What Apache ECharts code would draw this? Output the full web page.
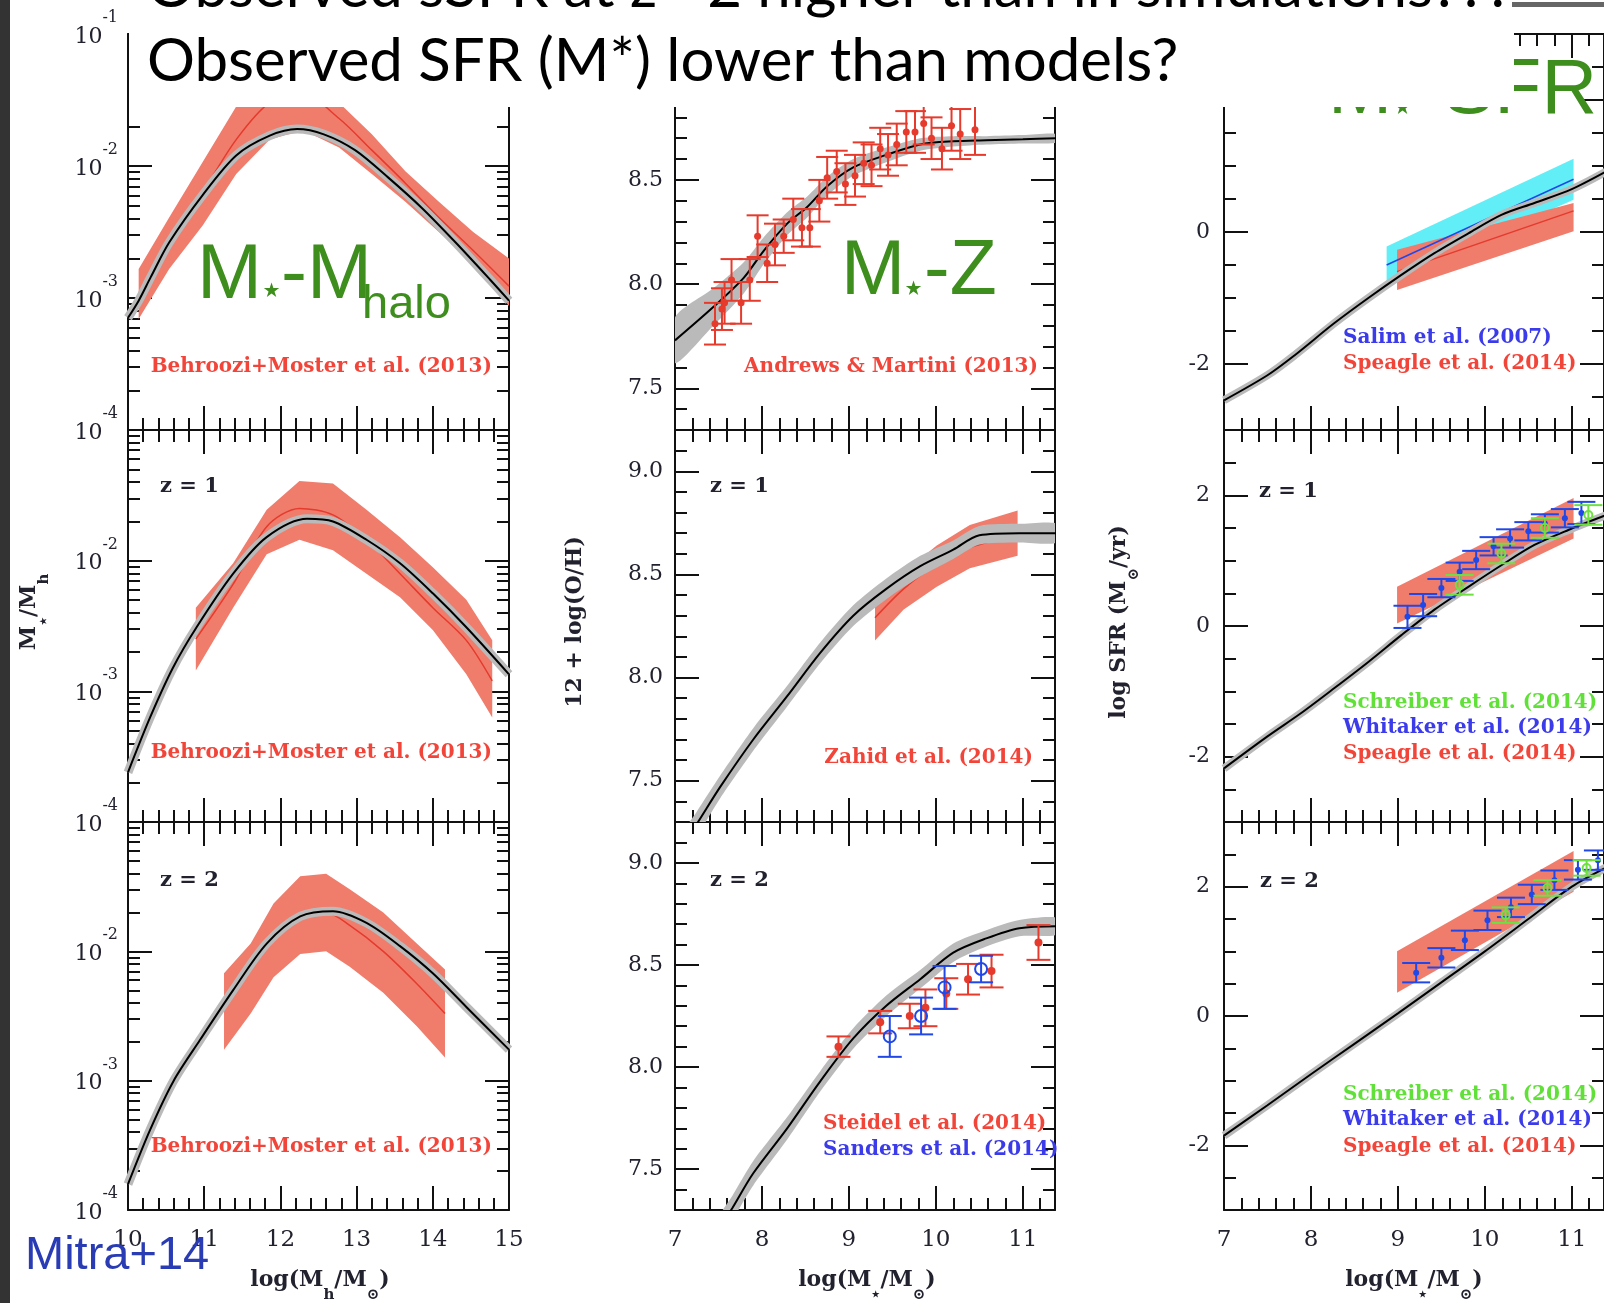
<!DOCTYPE html>
<html><head><meta charset="utf-8">
<script src="https://cdn.jsdelivr.net/npm/echarts@6/dist/echarts.min.js"></script>
<style>html,body{margin:0;padding:0;background:#fff}#c{width:1604px;height:1303px}</style>
</head><body><div id="c"></div>
<script>
// ---------------- DATA ----------------
// Tick labels
const mhXTicks = [10, 11, 12, 13, 14, 15];
const msXTicks = [7, 8, 9, 10, 11];
const mhYTicks = [-4, -3, -2, -1];            // log10(M*/Mh) decades
const mhYLabelsTop = [-4, -3, -2, -1];
const mhYLabelsLower = [-4, -3, -2];
const mzYTicks = [7.5, 8.0, 8.5, 9.0];
const sfrYTicks = [-2, 0, 2];

// ---- M*-Mhalo (values are log10 M*/Mh) ----
const mhX0 = [10.0, 10.14, 10.3, 10.54, 10.98, 11.42, 11.86, 12.22, 12.57, 12.98, 13.42, 13.86, 14.3, 14.75, 15.0];
const mhModel0 = [-3.15, -3.02, -2.84, -2.58, -2.22, -1.92, -1.77, -1.72, -1.76, -1.88, -2.09, -2.32, -2.58, -2.86, -3.02];
const mhObsX0 = [10.14, 10.54, 10.98, 11.42, 11.86, 12.3, 12.77, 13.2, 13.64, 14.08, 14.53, 15.0];
const mhObsHi0 = [-2.78, -2.39, -1.97, -1.55, -1.30, -1.24, -1.52, -1.76, -2.04, -2.27, -2.50, -2.70];
const mhObsLo0 = [-3.16, -2.78, -2.45, -2.06, -1.80, -1.73, -1.86, -2.06, -2.27, -2.50, -2.75, -3.06];
const mhObsMid0 = [-2.97, -2.60, -2.20, -1.80, -1.52, -1.46, -1.64, -1.88, -2.13, -2.39, -2.64, -2.91];

const mhX1 = [10.0, 10.29, 10.59, 10.9, 11.38, 11.82, 12.35, 12.69, 13.13, 13.57, 14.0, 14.44, 15.0];
const mhModel1 = [-3.62, -3.2, -2.82, -2.51, -2.10, -1.82, -1.68, -1.70, -1.84, -2.02, -2.25, -2.51, -2.87];
const mhObsX1 = [10.89, 11.38, 11.82, 12.25, 12.69, 13.13, 13.57, 14.0, 14.44, 14.78];
const mhObsHi1 = [-2.36, -2.02, -1.61, -1.39, -1.41, -1.61, -1.82, -2.05, -2.30, -2.61];
const mhObsLo1 = [-2.84, -2.36, -1.95, -1.84, -1.92, -2.10, -2.28, -2.53, -2.87, -3.20];
const mhObsMid1 = [-2.60, -2.18, -1.74, -1.60, -1.65, -1.84, -2.10, -2.36, -2.61, -2.92];

const mhX2 = [10.0, 10.29, 10.6, 10.94, 11.38, 11.82, 12.26, 12.69, 13.13, 13.57, 14.0, 14.44, 15.0];
const mhModel2 = [-3.8, -3.38, -3.0, -2.69, -2.30, -1.94, -1.73, -1.69, -1.78, -1.96, -2.17, -2.43, -2.76];
const mhObsX2 = [11.26, 11.61, 11.91, 12.26, 12.6, 12.91, 13.35, 13.79, 14.16];
const mhObsHi2 = [-2.17, -1.94, -1.63, -1.42, -1.40, -1.52, -1.70, -1.94, -2.14];
const mhObsLo2 = [-2.76, -2.48, -2.20, -2.02, -2.00, -2.12, -2.32, -2.58, -2.82];
const mhObsMid2 = [-2.43, -2.14, -1.89, -1.71, -1.70, -1.80, -2.00, -2.25, -2.48];

// ---- M*-Z (12+log O/H) ----
const mzX0 = [7.0, 7.44, 7.79, 8.02, 8.29, 8.52, 8.75, 9.05, 9.43, 9.82, 10.2, 10.58, 11.0, 11.4];
const mzModel0 = [7.73, 7.89, 8.03, 8.16, 8.29, 8.37, 8.47, 8.56, 8.62, 8.67, 8.685, 8.69, 8.695, 8.70];
const mzSpread0 = [0.11, 0.09, 0.075, 0.065, 0.055, 0.05, 0.045, 0.04, 0.035, 0.03, 0.025, 0.02, 0.02, 0.02];
const andrewsX = [7.46, 7.54, 7.57, 7.65, 7.76, 7.86, 7.95, 8.06, 8.15, 8.25, 8.36, 8.46, 8.55, 8.66, 8.75, 8.86, 8.96, 9.07, 9.17, 9.26, 9.36, 9.45, 9.55, 9.66, 9.76, 9.86, 9.95, 10.07, 10.18, 10.28, 10.45];
const andrewsY = [7.81, 7.88, 7.91, 8.02, 7.91, 8.02, 8.23, 8.10, 8.19, 8.23, 8.31, 8.27, 8.27, 8.40, 8.51, 8.54, 8.48, 8.52, 8.58, 8.57, 8.65, 8.62, 8.67, 8.73, 8.73, 8.77, 8.70, 8.65, 8.76, 8.72, 8.74];
const andrewsErr = [0.1, 0.1, 0.1, 0.1, 0.1, 0.1, 0.1, 0.09, 0.1, 0.08, 0.1, 0.09, 0.09, 0.1, 0.1, 0.1, 0.1, 0.1, 0.1, 0.1, 0.1, 0.1, 0.1, 0.1, 0.1, 0.1, 0.1, 0.1, 0.12, 0.12, 0.12];

const mzX1 = [7.0, 7.25, 7.52, 7.9, 8.29, 8.67, 9.05, 9.43, 9.82, 10.2, 10.5, 10.96, 11.4];
const mzModel1 = [7.13, 7.29, 7.47, 7.70, 7.91, 8.12, 8.30, 8.43, 8.54, 8.62, 8.69, 8.70, 8.70];
const mzSpread1 = [0.06, 0.06, 0.055, 0.055, 0.05, 0.05, 0.05, 0.05, 0.05, 0.045, 0.045, 0.045, 0.045];
const zahidX = [9.3, 9.63, 10.01, 10.39, 10.94];
const zahidHi = [8.39, 8.51, 8.64, 8.74, 8.81];
const zahidLo = [8.18, 8.33, 8.44, 8.53, 8.59];
const zahidMid = [8.29, 8.43, 8.55, 8.63, 8.69];

const mzX2 = [7.5, 7.66, 7.9, 8.29, 8.67, 9.05, 9.43, 9.82, 10.2, 10.58, 10.96, 11.4];
const mzModel2 = [7.2, 7.31, 7.48, 7.70, 7.93, 8.14, 8.30, 8.43, 8.56, 8.63, 8.68, 8.69];
const mzSpread2 = [0.06, 0.06, 0.06, 0.055, 0.05, 0.05, 0.05, 0.045, 0.045, 0.04, 0.04, 0.04];
const steidelX = [8.88, 9.36, 9.70, 9.88, 10.12, 10.37, 10.64, 11.18];
const steidelY = [8.10, 8.22, 8.25, 8.29, 8.36, 8.43, 8.47, 8.61];
const steidelErr = [0.05, 0.055, 0.06, 0.09, 0.075, 0.075, 0.08, 0.085];
const sandersX = [9.47, 9.83, 10.1, 10.52];
const sandersY = [8.15, 8.25, 8.39, 8.48];
const sandersErr = [0.1, 0.09, 0.105, 0.065];

// ---- M*-SFR (log SFR) ----
const sfrX0 = [7.0, 7.5, 7.81, 8.27, 8.66, 9.04, 9.42, 9.81, 10.19, 10.57, 11.0, 11.4];
const sfrModel0 = [-2.55, -2.17, -1.87, -1.38, -1.0, -0.65, -0.32, -0.02, 0.26, 0.44, 0.65, 0.92];
const salimX = [8.87, 11.02];
const salimHi = [-0.22, 1.11];
const salimLo = [-0.76, 0.49];
const salimMid = [-0.50, 0.80];
const speagleX0 = [8.99, 11.02];
const speagleHi0 = [-0.27, 0.44];
const speagleLo0 = [-0.88, 0.01];
const speagleMid0 = [-0.60, 0.32];

const sfrX1 = [7.0, 7.5, 7.88, 8.27, 8.66, 9.04, 9.42, 9.81, 10.19, 10.57, 10.96, 11.4];
const sfrModel1 = [-2.18, -1.69, -1.34, -0.95, -0.55, -0.14, 0.25, 0.60, 0.93, 1.24, 1.47, 1.70];
const speagleX1 = [8.99, 11.02];
const speagleHi1 = [0.60, 1.96];
const speagleLo1 = [0.04, 1.34];
const whitakerX1 = [9.11, 9.29, 9.50, 9.71, 9.90, 10.10, 10.29, 10.50, 10.69, 10.92, 11.11];
const whitakerY1 = [0.14, 0.32, 0.58, 0.83, 1.01, 1.22, 1.34, 1.45, 1.57, 1.65, 1.73];
const whitakerErr1 = [0.17, 0.17, 0.14, 0.14, 0.14, 0.14, 0.14, 0.14, 0.14, 0.14, 0.17];
const schreiberX1 = [9.71, 10.19, 10.69, 11.19];
const schreiberY1 = [0.63, 1.11, 1.50, 1.70];
const schreiberErr1 = [0.15, 0.15, 0.15, 0.15];

const sfrX2 = [7.0, 7.5, 8.0, 8.5, 9.0, 9.5, 10.0, 10.5, 11.0, 11.4];
const sfrModel2 = [-1.85, -1.38, -0.9, -0.43, 0.04, 0.52, 1.0, 1.5, 2.0, 2.3];
const speagleX2 = [8.99, 11.02];
const speagleHi2 = [1.0, 2.55];
const speagleLo2 = [0.36, 1.92];
const whitakerX2 = [9.21, 9.5, 9.77, 10.03, 10.3, 10.54, 10.8, 11.07, 11.3];
const whitakerY2 = [0.67, 0.9, 1.17, 1.48, 1.68, 1.88, 2.1, 2.26, 2.41];
const whitakerErr2 = [0.15, 0.15, 0.15, 0.15, 0.15, 0.15, 0.15, 0.15, 0.15];
const schreiberX2 = [10.24, 10.72, 11.17];
const schreiberY2 = [1.56, 1.98, 2.29];
const schreiberErr2 = [0.12, 0.12, 0.12];

// ---------------- BUILD ----------------
const SERIF = 'DejaVu Serif';
const LBL = '#22222f';
const RED_FILL = '#f07c6c', RED_LINE = '#e53a2c', GRAY = '#bababa', CYAN = '#62eef6', BLUE = '#2048e8';
const TXT_RED = '#f2453a', TXT_BLUE = '#3b3bea', TXT_GREEN = '#62e03a', GREEN = '#3e8e1e';

const COLS = [{left:128,width:381},{left:675,width:380},{left:1224,width:380}];
const ROWS = [{top:34,height:396},{top:430,height:392},{top:822,height:388}];

const grids = [], xAxis = [], yAxis = [], series = [], graphic = [];

function rng(a, b, step, skip) { const o = []; for (let i = 0; a + i*step <= b + 1e-9; i++) { const v = Math.round((a + i*step)*100)/100; if (!skip || !skip(v)) o.push(v); } return o; }
const isInt = v => Math.abs(v - Math.round(v)) < 1e-6;
const isHalf = v => Math.abs(v*2 - Math.round(v*2)) < 1e-6;
const mhXMinor = rng(10, 15, 0.2, isInt);
const msXMinor = rng(7, 11.3, 0.2, isInt);
const mhYMinor = []; for (let n = -4; n <= -2; n++) for (let k = 2; k <= 9; k++) mhYMinor.push(n + Math.log10(k));
const mzYMinor = rng(7.4, 9.1, 0.1, isHalf);
const sfrYMinor = [-2.5, -1.5, -1, -0.5, 0.5, 1, 1.5, 2.5];

function ax(gi, r, pos, ticks, len, line, label) {
  return {type:'value', gridIndex:gi, min:r[0], max:r[1], position:pos, silent:true,
    splitLine:{show:false}, splitArea:{show:false}, minorTick:{show:false}, axisPointer:{show:false},
    axisLine:{show:line, onZero:false, lineStyle:{color:'#111', width:2}},
    axisTick:{show:true, inside:true, length:len, customValues:ticks, lineStyle:{color:'#111', width:2}},
    axisLabel: label || {show:false}};
}
const logRich = {
  n:{fontFamily:SERIF, fontSize:22, lineHeight:48, padding:[16,0,0,0], verticalAlign:'top', color:LBL},
  s:{fontFamily:SERIF, fontSize:16, lineHeight:16, verticalAlign:'top', color:LBL}
};
function logLabel(vals) { return {show:true, customValues:vals, margin:10, formatter: v => '{n|10}{s|' + Math.round(v) + '}', rich:logRich, color:LBL}; }
function numLabel(vals, dec, margin) { return {show:true, customValues:vals, margin, fontFamily:SERIF, fontSize:22, color:LBL, formatter: v => dec ? v.toFixed(dec) : String(v)}; }
function xLabel(vals) { return {show:true, customValues:vals, margin:19, fontFamily:SERIF, fontSize:23, color:LBL, formatter: v => String(v)}; }

function panel(col, row, xr, yr, yMajor, yMinor, yLab, withX) {
  const gi = grids.length;
  grids.push({left:COLS[col].left, top:ROWS[row].top, width:COLS[col].width, height:ROWS[row].height});
  const xMajor = col === 0 ? mhXTicks : msXTicks, xMinor = col === 0 ? mhXMinor : msXMinor;
  xAxis.push(ax(gi, xr, 'bottom', xMajor, 24, true, withX ? xLabel(xMajor) : null));
  xAxis.push(ax(gi, xr, 'bottom', xMinor, 12, false));
  xAxis.push(ax(gi, xr, 'top', xMajor, 24, true));
  xAxis.push(ax(gi, xr, 'top', xMinor, 12, false));
  yAxis.push(ax(gi, yr, 'left', yMajor, 24, true, yLab));
  yAxis.push(ax(gi, yr, 'left', yMinor, 12, false));
  yAxis.push(ax(gi, yr, 'right', yMajor, 24, true));
  yAxis.push(ax(gi, yr, 'right', yMinor, 12, false));
  return gi;
}
const pairs = (xs, ys) => xs.map((x, i) => [x, ys[i]]);
function line(gi, xs, ys, color, width, z, smooth) {
  series.push({type:'line', xAxisIndex:gi*4, yAxisIndex:gi*4, data:pairs(xs, ys), symbol:'none', showSymbol:false,
    smooth: smooth === undefined ? 0.3 : smooth, silent:true, z, lineStyle:{color, width}, animation:false});
}
function model(gi, xs, ys, grayW) { if (grayW) line(gi, xs, ys, GRAY, grayW, 4); line(gi, xs, ys, '#000', 2, 5); }
function clipOf(cs) { return {type:'rect', shape:{x:cs.x, y:cs.y, width:cs.width, height:cs.height}}; }
function band(gi, xs, lo, hi, color, z, smooth) {
  const data = xs.map((x, i) => [x, lo[i], hi[i]]);
  series.push({type:'custom', xAxisIndex:gi*4, yAxisIndex:gi*4, data, z, silent:true, animation:false,
    renderItem: (params, api) => {
      if (params.dataIndex !== 0) return null;
      const up = data.map(d => api.coord([d[0], d[2]]));
      const dn = data.map(d => api.coord([d[0], d[1]])).reverse();
      return {type:'polygon', shape:{points: up.concat(dn), smooth: smooth || 0}, style:{fill:color}, clipPath: clipOf(params.coordSys)};
    }});
}
function errBars(gi, xs, ys, es, color, opt) {
  const data = xs.map((x, i) => [x, ys[i], es[i]]);
  series.push({type:'custom', xAxisIndex:gi*4, yAxisIndex:gi*4, data, z:6, silent:true, animation:false,
    renderItem: (params, api) => {
      const x = api.value(0), y = api.value(1), e = api.value(2);
      const c = api.coord([x, y]), t = api.coord([x, y + e]), b = api.coord([x, y - e]);
      const hw = opt.cap, st = {stroke:color, lineWidth:2, fill:'none'};
      return {type:'group', clipPath: clipOf(params.coordSys), children:[
        {type:'line', shape:{x1:c[0], y1:t[1], x2:c[0], y2:b[1]}, style:st},
        {type:'line', shape:{x1:c[0]-hw, y1:t[1], x2:c[0]+hw, y2:t[1]}, style:st},
        {type:'line', shape:{x1:c[0]-hw, y1:b[1], x2:c[0]+hw, y2:b[1]}, style:st},
        {type:'circle', shape:{cx:c[0], cy:c[1], r:opt.r}, style: opt.open ? {stroke:color, lineWidth:2, fill:'none'} : {fill:color}}
      ]};
    }});
}
const addSpread = (ys, sp, sign) => ys.map((y, i) => y + sign*sp[i]);

// ---- Column 1: M*-Mhalo ----
const MHX = [10, 15], MHY = [-4, -1];
let g = panel(0, 0, MHX, MHY, mhYTicks, mhYMinor, logLabel(mhYLabelsTop), false);
band(g, mhObsX0, mhObsLo0, mhObsHi0, RED_FILL, 2); line(g, mhObsX0, mhObsMid0, RED_LINE, 1.5, 3); model(g, mhX0, mhModel0, 9);
g = panel(0, 1, MHX, MHY, mhYTicks, mhYMinor, logLabel(mhYLabelsLower), false);
band(g, mhObsX1, mhObsLo1, mhObsHi1, RED_FILL, 2); line(g, mhObsX1, mhObsMid1, RED_LINE, 1.5, 3); model(g, mhX1, mhModel1, 9);
g = panel(0, 2, MHX, MHY, mhYTicks, mhYMinor, logLabel(mhYLabelsLower), true);
band(g, mhObsX2, mhObsLo2, mhObsHi2, RED_FILL, 2); line(g, mhObsX2, mhObsMid2, RED_LINE, 1.5, 3); model(g, mhX2, mhModel2, 9);

// ---- Column 2: M*-Z ----
const MSX = [7, 11.37], MZY = [7.3, 9.2];
g = panel(1, 0, MSX, MZY, mzYTicks, mzYMinor, numLabel(mzYTicks, 1, 12), false);
band(g, mzX0, addSpread(mzModel0, mzSpread0, -1), addSpread(mzModel0, mzSpread0, 1), GRAY, 4, 0.25); model(g, mzX0, mzModel0, 0);
errBars(g, andrewsX, andrewsY, andrewsErr, RED_LINE, {cap:11, r:3.5});
g = panel(1, 1, MSX, MZY, mzYTicks, mzYMinor, numLabel(mzYTicks, 1, 12), false);
band(g, zahidX, zahidLo, zahidHi, RED_FILL, 2, 0); line(g, zahidX, zahidMid, RED_LINE, 1.5, 3);
band(g, mzX1, addSpread(mzModel1, mzSpread1, -1), addSpread(mzModel1, mzSpread1, 1), GRAY, 4, 0.25); model(g, mzX1, mzModel1, 0);
g = panel(1, 2, MSX, MZY, mzYTicks, mzYMinor, numLabel(mzYTicks, 1, 12), true);
band(g, mzX2, addSpread(mzModel2, mzSpread2, -1), addSpread(mzModel2, mzSpread2, 1), GRAY, 4, 0.25); model(g, mzX2, mzModel2, 0);
errBars(g, steidelX, steidelY, steidelErr, RED_LINE, {cap:12, r:4});
errBars(g, sandersX, sandersY, sandersErr, BLUE, {cap:12, r:6, open:true});

// ---- Column 3: M*-SFR ----
const SFRY = [-3, 3];
g = panel(2, 0, MSX, SFRY, sfrYTicks, sfrYMinor, numLabel(sfrYTicks, 0, 14), false);
band(g, salimX, salimLo, salimHi, CYAN, 1); line(g, salimX, salimMid, BLUE, 1.5, 3, false);
band(g, speagleX0, speagleLo0, speagleHi0, RED_FILL, 2); line(g, speagleX0, speagleMid0, RED_LINE, 1.5, 3, false);
model(g, sfrX0, sfrModel0, 8);
g = panel(2, 1, MSX, SFRY, sfrYTicks, sfrYMinor, numLabel(sfrYTicks, 0, 14), false);
band(g, speagleX1, speagleLo1, speagleHi1, RED_FILL, 2);
model(g, sfrX1, sfrModel1, 8);
errBars(g, whitakerX1, whitakerY1, whitakerErr1, BLUE, {cap:14, r:3});
errBars(g, schreiberX1, schreiberY1, schreiberErr1, '#6ee040', {cap:14, r:4, open:true});
g = panel(2, 2, MSX, SFRY, sfrYTicks, sfrYMinor, numLabel(sfrYTicks, 0, 14), true);
band(g, speagleX2, speagleLo2, speagleHi2, RED_FILL, 2);
model(g, sfrX2, sfrModel2, 8);
errBars(g, whitakerX2, whitakerY2, whitakerErr2, BLUE, {cap:14, r:3});
errBars(g, schreiberX2, schreiberY2, schreiberErr2, '#6ee040', {cap:14, r:4, open:true});

// ---------------- TEXT / DECORATION ----------------
function txt(text, x, y, size, color, o) {
  o = o || {};
  graphic.push({type:'text', x, y, z:o.z || 60, rotation:o.rot || 0, silent:true,
    style:{text, fontSize:size, fontFamily:o.font || SERIF, fontWeight:o.weight || 'normal', fill:color,
      align:o.align || 'left', verticalAlign:o.va || 'middle', rich:o.rich}});
}
// panel annotations
[[160,487,'z = 1'],[160,881,'z = 2'],[710,487,'z = 1'],[710,881,'z = 2'],[1259,492,'z = 1'],[1260,882,'z = 2']]
  .forEach(a => txt(a[2], a[0], a[1], 21, LBL, {weight:'bold'}));
const CB = {weight:'bold'};
txt('Behroozi+Moster et al. (2013)', 492, 367, 20, TXT_RED, {align:'right', weight:'bold'});
txt('Behroozi+Moster et al. (2013)', 492, 753, 20, TXT_RED, {align:'right', weight:'bold'});
txt('Behroozi+Moster et al. (2013)', 492, 1147, 20, TXT_RED, {align:'right', weight:'bold'});
txt('Andrews & Martini (2013)', 1038, 367, 20, TXT_RED, {align:'right', weight:'bold'});
txt('Zahid et al. (2014)', 1033, 758, 20, TXT_RED, {align:'right', weight:'bold'});
txt('Steidel et al. (2014)', 823, 1124, 20, TXT_RED, CB);
txt('Sanders et al. (2014)', 823, 1150, 20, TXT_BLUE, CB);
txt('Salim et al. (2007)', 1343, 338, 20, TXT_BLUE, CB);
txt('Speagle et al. (2014)', 1343, 364, 20, TXT_RED, CB);
txt('Schreiber et al. (2014)', 1343, 703, 20, TXT_GREEN, CB);
txt('Whitaker et al. (2014)', 1343, 728, 20, TXT_BLUE, CB);
txt('Speagle et al. (2014)', 1343, 754, 20, TXT_RED, CB);
txt('Schreiber et al. (2014)', 1343, 1095, 20, TXT_GREEN, CB);
txt('Whitaker et al. (2014)', 1343, 1120, 20, TXT_BLUE, CB);
txt('Speagle et al. (2014)', 1343, 1147, 20, TXT_RED, CB);

// axis titles
const nameRich = {
  n:{fontFamily:SERIF, fontSize:22, fontWeight:'bold', lineHeight:26, verticalAlign:'top', color:LBL},
  s:{fontFamily:SERIF, fontSize:15, fontWeight:'bold', lineHeight:15, padding:[19,0,0,0], verticalAlign:'top', color:LBL}
};
txt('{n|M}{s|⋆}{n|/M}{s|h}', 31, 612, 22, LBL, {rot:Math.PI/2, align:'center', rich:nameRich});
txt('{n|12 + log(O/H)}', 577, 622, 22, LBL, {rot:Math.PI/2, align:'center', rich:nameRich});
txt('{n|log SFR (M}{s|⊙}{n|/yr)}', 1121, 622, 22, LBL, {rot:Math.PI/2, align:'center', rich:nameRich});
txt('{n|log(M}{s|h}{n|/M}{s|⊙}{n|)}', 320, 1282, 22, LBL, {align:'center', rich:nameRich});
txt('{n|log(M}{s|⋆}{n|/M}{s|⊙}{n|)}', 867, 1282, 22, LBL, {align:'center', rich:nameRich});
txt('{n|log(M}{s|⋆}{n|/M}{s|⊙}{n|)}', 1414, 1282, 22, LBL, {align:'center', rich:nameRich});

// big green relation labels
const SANS = 'Liberation Sans';
txt('M', 197, 276, 78, GREEN, {font:SANS, z:50});
txt('⋆', 259, 293, 40, GREEN, {font:'DejaVu Sans', z:50});
txt('-M', 281, 276, 78, GREEN, {font:SANS, z:50});
txt('halo', 362, 305, 47, GREEN, {font:SANS, z:50});
txt('M', 841, 273, 77, GREEN, {font:SANS, z:50});
txt('⋆', 901, 291, 40, GREEN, {font:'DejaVu Sans', z:50});
txt('-Z', 924, 273, 77, GREEN, {font:SANS, z:50});
txt('M', 1328, 92, 77, GREEN, {font:SANS, z:50});
txt('⋆', 1390, 110, 40, GREEN, {font:'DejaVu Sans', z:50});
txt('-SFR', 1597, 92, 77, GREEN, {font:SANS, z:50, align:'right'});

// slide chrome + title box
graphic.push({type:'rect', z:90, silent:true, shape:{x:129, y:0, width:1385, height:107}, style:{fill:'#fff'}});
graphic.push({type:'rect', z:100, silent:true, shape:{x:0, y:0, width:10, height:1303}, style:{fill:'#333'}});
graphic.push({type:'rect', z:100, silent:true, shape:{x:1512, y:2, width:92, height:5}, style:{fill:'#666'}});
txt('Observed sSFR at z> 2 higher than in simulations???', 147, -12, 60, '#000', {font:'Lato', z:100});
txt('Observed SFR (M*) lower than models?', 147, 62, 60, '#000', {font:'Lato', z:100});
txt('Mitra+14', 25, 1256, 47, '#2a3cb4', {font:SANS, z:100});

const chart = echarts.init(document.getElementById('c'), null, {renderer:'canvas', width:1604, height:1303});
chart.setOption({
  animation:false, backgroundColor:'#fff', textStyle:{fontFamily:SERIF},
  grid:grids, xAxis, yAxis, series, graphic:{elements:graphic}
});
</script></body></html>
